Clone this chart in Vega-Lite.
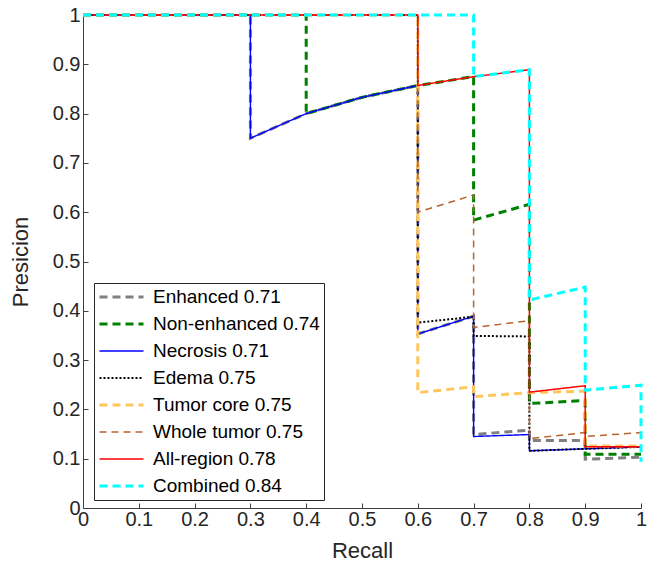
{
  "$schema": "https://vega.github.io/schema/vega-lite/v6.json",
  "width": 558,
  "height": 493,
  "autosize": "none",
  "padding": {"left": 83, "top": 15, "right": 13, "bottom": 60},
  "background": "white",
  "config": {
    "view": {"stroke": null},
    "font": "Liberation Sans",
    "axis": {
      "grid": false,
      "domainColor": "#404040",
      "domainWidth": 1,
      "tickColor": "#404040",
      "tickSize": -5,
      "labelColor": "#262626",
      "labelFont": "Liberation Sans",
      "labelFontSize": 20,
      "titleColor": "#262626",
      "titleFont": "Liberation Sans",
      "titleFontSize": 22,
      "titleFontWeight": "normal",
      "format": "~g"
    }
  },
  "data": {
    "values": [
      {"s": "Enhanced 0.71", "i": 0, "r": 0, "p": 1},
      {"s": "Enhanced 0.71", "i": 1, "r": 0.3, "p": 1},
      {"s": "Enhanced 0.71", "i": 2, "r": 0.3, "p": 0.75},
      {"s": "Enhanced 0.71", "i": 3, "r": 0.4, "p": 0.8},
      {"s": "Enhanced 0.71", "i": 4, "r": 0.5, "p": 0.833},
      {"s": "Enhanced 0.71", "i": 5, "r": 0.6, "p": 0.857},
      {"s": "Enhanced 0.71", "i": 6, "r": 0.6, "p": 0.353},
      {"s": "Enhanced 0.71", "i": 7, "r": 0.7, "p": 0.389},
      {"s": "Enhanced 0.71", "i": 8, "r": 0.7, "p": 0.149},
      {"s": "Enhanced 0.71", "i": 9, "r": 0.8, "p": 0.158},
      {"s": "Enhanced 0.71", "i": 10, "r": 0.8, "p": 0.137},
      {"s": "Enhanced 0.71", "i": 11, "r": 0.9, "p": 0.137},
      {"s": "Enhanced 0.71", "i": 12, "r": 0.9, "p": 0.099},
      {"s": "Enhanced 0.71", "i": 13, "r": 1.0, "p": 0.103},

      {"s": "Non-enhanced 0.74", "i": 0, "r": 0, "p": 1},
      {"s": "Non-enhanced 0.74", "i": 1, "r": 0.4, "p": 1},
      {"s": "Non-enhanced 0.74", "i": 2, "r": 0.4, "p": 0.8},
      {"s": "Non-enhanced 0.74", "i": 3, "r": 0.5, "p": 0.833},
      {"s": "Non-enhanced 0.74", "i": 4, "r": 0.6, "p": 0.857},
      {"s": "Non-enhanced 0.74", "i": 5, "r": 0.7, "p": 0.875},
      {"s": "Non-enhanced 0.74", "i": 6, "r": 0.7, "p": 0.584},
      {"s": "Non-enhanced 0.74", "i": 7, "r": 0.8, "p": 0.616},
      {"s": "Non-enhanced 0.74", "i": 8, "r": 0.8, "p": 0.212},
      {"s": "Non-enhanced 0.74", "i": 9, "r": 0.9, "p": 0.218},
      {"s": "Non-enhanced 0.74", "i": 10, "r": 0.9, "p": 0.109},
      {"s": "Non-enhanced 0.74", "i": 11, "r": 1.0, "p": 0.109},

      {"s": "Necrosis 0.71", "i": 0, "r": 0, "p": 1},
      {"s": "Necrosis 0.71", "i": 1, "r": 0.3, "p": 1},
      {"s": "Necrosis 0.71", "i": 2, "r": 0.3, "p": 0.75},
      {"s": "Necrosis 0.71", "i": 3, "r": 0.4, "p": 0.8},
      {"s": "Necrosis 0.71", "i": 4, "r": 0.5, "p": 0.833},
      {"s": "Necrosis 0.71", "i": 5, "r": 0.6, "p": 0.857},
      {"s": "Necrosis 0.71", "i": 6, "r": 0.6, "p": 0.353},
      {"s": "Necrosis 0.71", "i": 7, "r": 0.7, "p": 0.389},
      {"s": "Necrosis 0.71", "i": 8, "r": 0.7, "p": 0.145},
      {"s": "Necrosis 0.71", "i": 9, "r": 0.8, "p": 0.149},
      {"s": "Necrosis 0.71", "i": 10, "r": 0.8, "p": 0.116},
      {"s": "Necrosis 0.71", "i": 11, "r": 0.9, "p": 0.12},
      {"s": "Necrosis 0.71", "i": 12, "r": 1.0, "p": 0.124},

      {"s": "Edema 0.75", "i": 0, "r": 0, "p": 1},
      {"s": "Edema 0.75", "i": 1, "r": 0.6, "p": 1},
      {"s": "Edema 0.75", "i": 2, "r": 0.6, "p": 0.376},
      {"s": "Edema 0.75", "i": 3, "r": 0.7, "p": 0.388},
      {"s": "Edema 0.75", "i": 4, "r": 0.7, "p": 0.349},
      {"s": "Edema 0.75", "i": 5, "r": 0.8, "p": 0.348},
      {"s": "Edema 0.75", "i": 6, "r": 0.8, "p": 0.116},
      {"s": "Edema 0.75", "i": 7, "r": 0.9, "p": 0.12},
      {"s": "Edema 0.75", "i": 8, "r": 1.0, "p": 0.124},

      {"s": "Tumor core 0.75", "i": 0, "r": 0, "p": 1},
      {"s": "Tumor core 0.75", "i": 1, "r": 0.6, "p": 1},
      {"s": "Tumor core 0.75", "i": 2, "r": 0.6, "p": 0.234},
      {"s": "Tumor core 0.75", "i": 3, "r": 0.7, "p": 0.246},
      {"s": "Tumor core 0.75", "i": 4, "r": 0.7, "p": 0.226},
      {"s": "Tumor core 0.75", "i": 5, "r": 0.8, "p": 0.234},
      {"s": "Tumor core 0.75", "i": 6, "r": 0.9, "p": 0.237},
      {"s": "Tumor core 0.75", "i": 7, "r": 0.9, "p": 0.126},
      {"s": "Tumor core 0.75", "i": 8, "r": 1.0, "p": 0.126},

      {"s": "Whole tumor 0.75", "i": 0, "r": 0, "p": 1},
      {"s": "Whole tumor 0.75", "i": 1, "r": 0.6, "p": 1},
      {"s": "Whole tumor 0.75", "i": 2, "r": 0.6, "p": 0.6},
      {"s": "Whole tumor 0.75", "i": 3, "r": 0.7, "p": 0.635},
      {"s": "Whole tumor 0.75", "i": 4, "r": 0.7, "p": 0.366},
      {"s": "Whole tumor 0.75", "i": 5, "r": 0.8, "p": 0.38},
      {"s": "Whole tumor 0.75", "i": 6, "r": 0.8, "p": 0.141},
      {"s": "Whole tumor 0.75", "i": 7, "r": 0.9, "p": 0.153},
      {"s": "Whole tumor 0.75", "i": 8, "r": 0.9, "p": 0.145},
      {"s": "Whole tumor 0.75", "i": 9, "r": 1.0, "p": 0.153},

      {"s": "All-region 0.78", "i": 0, "r": 0, "p": 1},
      {"s": "All-region 0.78", "i": 1, "r": 0.6, "p": 1},
      {"s": "All-region 0.78", "i": 2, "r": 0.6, "p": 0.857},
      {"s": "All-region 0.78", "i": 3, "r": 0.7, "p": 0.875},
      {"s": "All-region 0.78", "i": 4, "r": 0.8, "p": 0.889},
      {"s": "All-region 0.78", "i": 5, "r": 0.8, "p": 0.235},
      {"s": "All-region 0.78", "i": 6, "r": 0.9, "p": 0.248},
      {"s": "All-region 0.78", "i": 7, "r": 0.9, "p": 0.124},
      {"s": "All-region 0.78", "i": 8, "r": 1.0, "p": 0.124},

      {"s": "Combined 0.84", "i": 0, "r": 0, "p": 1},
      {"s": "Combined 0.84", "i": 1, "r": 0.7, "p": 1},
      {"s": "Combined 0.84", "i": 2, "r": 0.7, "p": 0.875},
      {"s": "Combined 0.84", "i": 3, "r": 0.8, "p": 0.889},
      {"s": "Combined 0.84", "i": 4, "r": 0.8, "p": 0.422},
      {"s": "Combined 0.84", "i": 5, "r": 0.9, "p": 0.448},
      {"s": "Combined 0.84", "i": 6, "r": 0.9, "p": 0.239},
      {"s": "Combined 0.84", "i": 7, "r": 1.0, "p": 0.249},
      {"s": "Combined 0.84", "i": 8, "r": 1.0, "p": 0.094}
    ]
  },
  "mark": {"type": "line", "strokeCap": "butt", "strokeJoin": "miter", "clip": false},
  "encoding": {
    "x": {
      "field": "r", "type": "quantitative",
      "scale": {"domain": [0, 1], "nice": false, "zero": false},
      "axis": {"title": "Recall", "values": [0, 0.1, 0.2, 0.3, 0.4, 0.5, 0.6, 0.7, 0.8, 0.9, 1], "labelPadding": 6, "titlePadding": 11, "labelFlush": false}
    },
    "y": {
      "field": "p", "type": "quantitative",
      "scale": {"domain": [0, 1], "nice": false, "zero": false},
      "axis": {"title": "Presicion", "values": [0, 0.1, 0.2, 0.3, 0.4, 0.5, 0.6, 0.7, 0.8, 0.9, 1], "labelPadding": 8, "titlePadding": 20, "labelFlush": false}
    },
    "order": {"field": "i", "type": "quantitative"},
    "color": {
      "field": "s", "type": "nominal",
      "scale": {
        "domain": ["Enhanced 0.71", "Non-enhanced 0.74", "Necrosis 0.71", "Edema 0.75", "Tumor core 0.75", "Whole tumor 0.75", "All-region 0.78", "Combined 0.84"],
        "range": ["#808080", "#008000", "#0000ff", "#000000", "#ffc65c", "#b8642f", "#ff0000", "#00ffff"]
      },
      "legend": {
        "title": null,
        "orient": "none",
        "legendX": 11,
        "legendY": 268,
        "symbolType": "stroke",
        "symbolSize": 1936,
        "clipHeight": 20,
        "rowPadding": 7,
        "padding": 4,
        "labelOffset": 8,
        "labelFontSize": 19,
        "labelColor": "#000000",
        "labelFont": "Liberation Sans",
        "strokeColor": "#262626",
        "fillColor": "white",
        "cornerRadius": 0,
        "labelLimit": 400
      }
    },
    "strokeDash": {
      "field": "s", "type": "nominal",
      "scale": {
        "type": "ordinal",
        "domain": ["Enhanced 0.71", "Non-enhanced 0.74", "Necrosis 0.71", "Edema 0.75", "Tumor core 0.75", "Whole tumor 0.75", "All-region 0.78", "Combined 0.84"],
        "range": [[8, 5], [8, 5], [1, 0], [2, 2], [8, 5], [7, 5], [1, 0], [8, 5]]
      }
    },
    "strokeWidth": {
      "field": "s", "type": "nominal",
      "scale": {
        "type": "ordinal",
        "domain": ["Enhanced 0.71", "Non-enhanced 0.74", "Necrosis 0.71", "Edema 0.75", "Tumor core 0.75", "Whole tumor 0.75", "All-region 0.78", "Combined 0.84"],
        "range": [3, 3, 1.4, 2, 3, 1.5, 1.5, 3]
      }
    }
  }
}
